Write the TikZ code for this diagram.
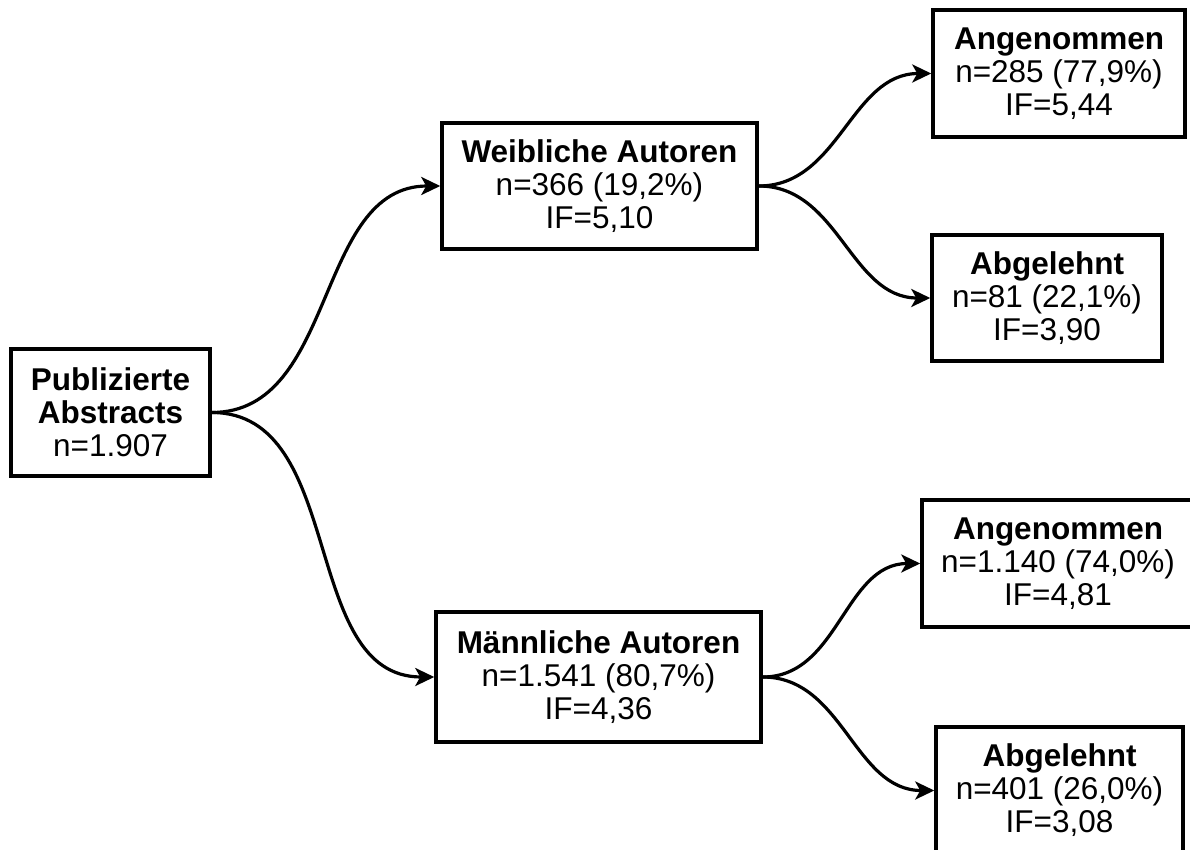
\documentclass[tikz,border=0pt]{standalone}
\usepackage{fontspec}
\setmainfont{Liberation Sans}
\usetikzlibrary{arrows.meta}
\tikzset{
  box/.style={draw=black, line width=3.5pt, align=center, inner sep=0pt,
    font=\fontsize{31.5}{33}\selectfont, text=black},
  conn/.style={line width=3.2pt, -{Stealth[length=19pt,width=18pt,inset=5pt]}},
}
\begin{document}
\begin{tikzpicture}[x=1pt,y=-1pt]
\useasboundingbox (0,0) rectangle (1190,850);
\node[box, minimum width=199pt, minimum height=127pt] (pub) at (110.5,412.5)
  {\textbf{Publizierte}\\\textbf{Abstracts}\\n=1.907};
\node[box, minimum width=315pt, minimum height=126pt] (weib) at (599.5,186)
  {\textbf{Weibliche Autoren}\\n=366 (19,2\%)\\IF=5,10};
\node[box, minimum width=325pt, minimum height=130pt] (mann) at (598.5,677)
  {\textbf{Männliche Autoren}\\n=1.541 (80,7\%)\\IF=4,36};
\node[box, minimum width=252pt, minimum height=127pt] (ang1) at (1059,73.5)
  {\textbf{Angenommen}\\n=285 (77,9\%)\\IF=5,44};
\node[box, minimum width=230pt, minimum height=126pt] (abg1) at (1047,298)
  {\textbf{Abgelehnt}\\n=81 (22,1\%)\\IF=3,90};
\node[box, minimum width=272pt, minimum height=127pt] (ang2) at (1058,563.5)
  {\textbf{Angenommen}\\n=1.140 (74,0\%)\\IF=4,81};
\node[box, minimum width=247pt, minimum height=127pt] (abg2) at (1059.5,790.5)
  {\textbf{Abgelehnt}\\n=401 (26,0\%)\\IF=3,08};
\draw[conn] (pub.east) to[out=0,in=180] (weib.west);
\draw[conn] (pub.east) to[out=0,in=180] (mann.west);
\draw[conn] (weib.east) to[out=0,in=180] (ang1.west);
\draw[conn] (weib.east) to[out=0,in=180] (abg1.west);
\draw[conn] (mann.east) to[out=0,in=180] (ang2.west);
\draw[conn] (mann.east) to[out=0,in=180] (abg2.west);
\end{tikzpicture}
\end{document}
